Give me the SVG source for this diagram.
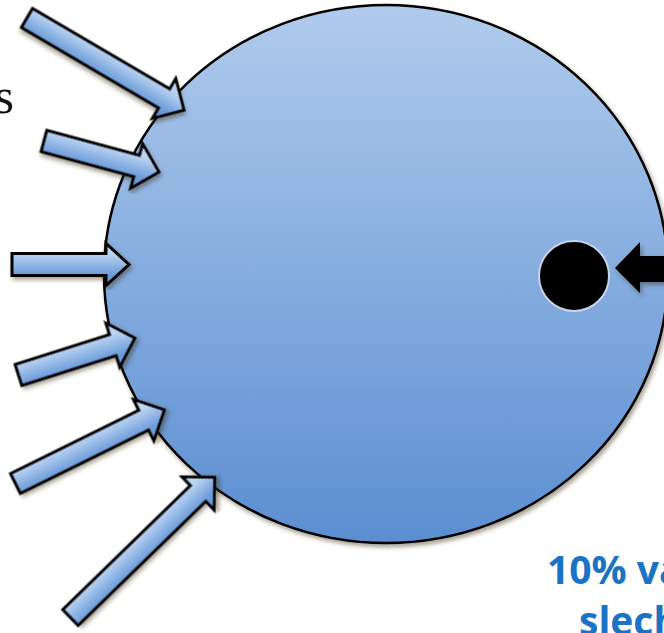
<svg xmlns="http://www.w3.org/2000/svg" width="664" height="633" viewBox="0 0 664 633">
<defs>
  <linearGradient id="ballGrad" x1="0" y1="0" x2="0" y2="1">
    <stop offset="0" stop-color="#b0cbec"/>
    <stop offset="1" stop-color="#5b8ed2"/>
  </linearGradient>
  <linearGradient id="arrowGrad" gradientUnits="userSpaceOnUse" x1="0" y1="-11" x2="0" y2="11">
    <stop offset="0" stop-color="#bcd5f2"/>
    <stop offset="1" stop-color="#6a9ad9"/>
  </linearGradient>
  <filter id="shadow" x="-10%" y="-10%" width="120%" height="120%">
    <feDropShadow dx="2" dy="3" stdDeviation="2" flood-color="#3b2a1a" flood-opacity="0.45"/>
  </filter>
</defs>
<style>
  .ball { fill: url(#ballGrad); stroke: #000; stroke-width: 2.5; filter: url(#shadow); }
  .arrow { fill: url(#arrowGrad); stroke: #000; stroke-width: 3; stroke-linejoin: miter; filter: url(#shadow); }
  .label { font-family: "Open Sans", "Liberation Sans", sans-serif; font-weight: bold; font-size: 39px; fill: #1a73c4; }
  .corner { font-family: "Liberation Serif", serif; font-size: 50px; fill: #111; }
</style>

<rect x="0" y="0" width="664" height="633" fill="#ffffff"/>

<text class="corner" x="14" y="113" text-anchor="end">s</text>

<g id="cell">
  <ellipse class="ball" cx="386" cy="274" rx="282" ry="269"/>
</g>

<g id="particle">
  <circle cx="574" cy="276" r="35" fill="#000" stroke="#c6d5ea" stroke-width="2"/>
</g>

<g id="connectors">
  <path class="arrow" transform="translate(27,18) rotate(30.4)" d="M0,-11 H159 V-23 L182,0 L159,23 V11 H0 Z"/>
  <path class="arrow" transform="translate(44,141) rotate(15.1)" d="M0,-11 H96 V-23 L119,0 L96,23 V11 H0 Z"/>
  <path class="arrow" transform="translate(12,264.5)" d="M0,-11 H94 V-21 L117,0 L94,21 V11 H0 Z"/>
  <path class="arrow" transform="translate(18.5,375) rotate(-17.6)" d="M0,-11 H99 V-23 L122,0 L99,23 V11 H0 Z"/>
  <path class="arrow" transform="translate(15.5,483.5) rotate(-26.3)" d="M0,-11 H143 V-23 L166,0 L143,23 V11 H0 Z"/>
  <path class="arrow" transform="translate(70.5,617.5) rotate(-44.2)" d="M0,-11 H178 V-23 L201,0 L178,23 V11 H0 Z"/>
  <path d="M615,268 L640,242 L640,256 L670,256 L670,282 L640,282 L640,293 Z" fill="#000" filter="url(#shadow)"/>
</g>

<g id="caption">
  <rect x="475" y="537" width="189" height="96" fill="#ffffff"/>
  <text class="label" x="547" y="584">10% va</text>
  <text class="label" x="579" y="635">slech</text>
</g>
</svg>
